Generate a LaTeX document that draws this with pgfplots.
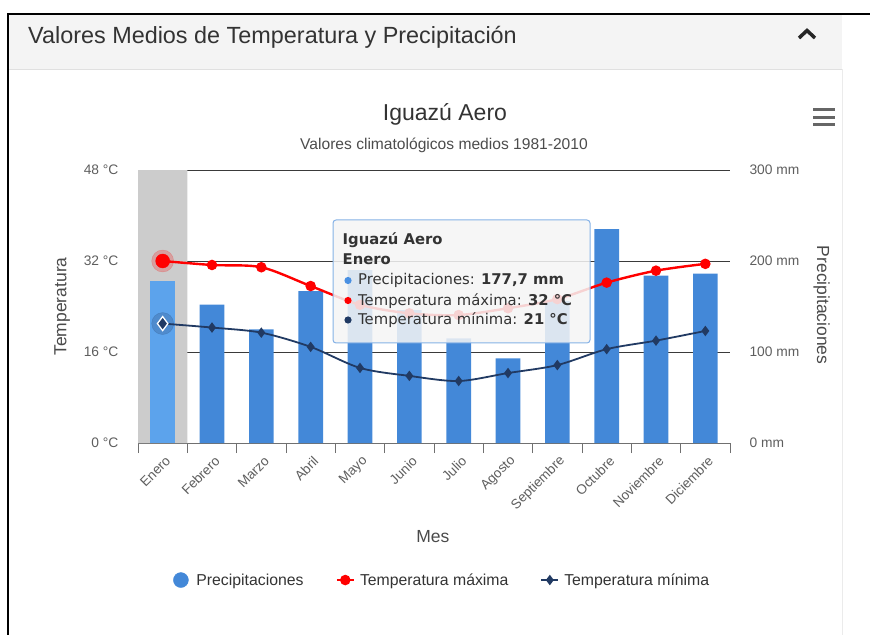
\documentclass[border=0pt]{standalone}
\usepackage{pgfplots}
\pgfplotsset{compat=1.18}
\usepackage{fontspec}
\setmainfont{Liberation Sans}
\newfontfamily\tipfont{DejaVu Sans}
\definecolor{headerbg}{HTML}{F4F4F4}
\definecolor{barblue}{HTML}{4388D8}
\definecolor{barhover}{HTML}{5CA3EC}
\definecolor{bandgray}{HTML}{CCCCCC}
\definecolor{tmax}{HTML}{FF0000}
\definecolor{tmin}{HTML}{213A63}
\definecolor{gridc}{HTML}{3A3A3A}
\definecolor{axisc}{HTML}{707070}
\definecolor{tickc}{HTML}{5E5E5E}
\definecolor{titlec}{HTML}{4A4A4A}
\definecolor{tipborder}{HTML}{86B2E6}
\definecolor{tipdot}{HTML}{4A90E2}
\pgfplotsset{
  base/.style={
    scale only axis, width=592pt, height=273pt,
    at={(138pt,192pt)}, anchor=south west,
    xmin=-0.5, xmax=11.5, ymin=0,
    /pgf/number format/assume math mode=true,
    y axis line style={draw=none},
    ytick style={draw=none},
    tick label style={font=\fontsize{13.8}{16}\selectfont, color=tickc},
  }
}
\begin{document}
\begin{tikzpicture}[x=1pt,y=1pt]
\path[use as bounding box] (0,0) rectangle (870,635);
% panel and header
\fill[headerbg] (9,566) rectangle (842,621);
\draw[line width=0.8pt, black!12] (9,566) -- (842,566);
\draw[line width=0.8pt, black!8] (842,566) -- (842,0);
\draw[line width=2pt, black] (870,621) -- (8,621) -- (8,0);
\node[anchor=base west, inner sep=0pt, text=black!80, font=\fontsize{23.4}{26}\selectfont] at (28,591) {Valores Medios de Temperatura y Precipitación};
\draw[line width=3.5pt, black!85] (799,597) -- (807,604.5) -- (815,597);
% titles
\node[anchor=base, inner sep=0pt, text=black!80, font=\fontsize{23}{26}\selectfont] at (445,514) {Iguazú Aero};
\node[anchor=base, inner sep=0pt, text=black!70, font=\fontsize{15.6}{18}\selectfont] at (444,485) {Valores climatológicos medios 1981-2010};
% menu icon
\foreach \yy in {525,517.5,510} \draw[line width=3pt, black!60] (813,\yy) -- (835,\yy);

% precipitation axis (bars)
\begin{axis}[base,
  ymax=300, ytick={0,100,200,300},
  yticklabel={\pgfmathprintnumber{\tick}~mm},
  yticklabel style={anchor=west, xshift=16pt},
  axis y line*=right, axis x line*=bottom,
  x axis line style={axisc, line width=0.8pt},
  ymajorgrids, grid style={gridc, line width=0.8pt},
  xtick={0,...,11},
  xticklabels={Enero,Febrero,Marzo,Abril,Mayo,Junio,Julio,Agosto,Septiembre,Octubre,Noviembre,Diciembre},
  xtick style={draw=none},
  xticklabel style={rotate=45, anchor=east, yshift=-15pt, xshift=-4pt, font=\fontsize{13.5}{15}\selectfont},
  extra x ticks={-0.5,0.5,...,11.5},
  extra x tick labels={},
  extra x tick style={xtick style={draw=axisc, line width=0.8pt}, major tick length=10pt, tick align=outside},
  xlabel={Mes},
  every axis x label/.style={at={(axis description cs:0.498,-0.366)}, anchor=base, font=\fontsize{17.5}{20}\selectfont, text=titlec},
  ylabel={Precipitaciones},
  every axis y label/.style={at={(axis description cs:1.155,0.505)}, rotate=-90, anchor=center, font=\fontsize{17.5}{20}\selectfont, text=titlec},
]
\addplot[fill=bandgray, draw=none] coordinates {(-0.5,0) (-0.5,300) (0.5,300) (0.5,0)} \closedcycle;
\addplot[ybar, bar width=0.5, bar shift=0pt, fill=barblue, draw=none]
  coordinates {(1,152) (2,125) (3,167) (4,190) (5,146) (6,115) (7,93) (8,156) (9,235) (10,184) (11,186)};
\addplot[ybar, bar width=0.5, bar shift=0pt, fill=barhover, draw=none]
  coordinates {(0,177.7)};
\end{axis}

% temperature axis (lines)
\begin{axis}[base,
  ymax=48, ytick={0,16,32,48},
  yticklabel={\pgfmathprintnumber{\tick}~°C},
  yticklabel style={anchor=east, xshift=-16pt},
  axis y line*=left, axis x line=none,
  ylabel={Temperatura},
  every axis y label/.style={at={(axis description cs:-0.128,0.5)}, rotate=90, anchor=center, font=\fontsize{17.5}{20}\selectfont, text=titlec},
  legend columns=3,
  legend style={at={(axis description cs:0.514,-0.502)}, anchor=center, draw=none, fill=none,
    font=\fontsize{15.8}{18}\selectfont, text=black!80,
    /tikz/every even column/.append style={column sep=30pt}},
]
\addlegendimage{only marks, mark=*, mark size=7.5pt, color=barblue}
\addlegendentry{\hspace{6pt}Precipitaciones}
\addplot[tmax, line width=2.4pt, smooth, mark=*, mark size=4pt, mark options={fill=tmax, draw=tmax}]
  coordinates {(0,32) (1,31.3) (2,30.9) (3,27.6) (4,24.3) (5,22.8) (6,22.5) (7,23.7) (8,25.3) (9,28.2) (10,30.3) (11,31.5)};
\addlegendentry{\hspace{3pt}Temperatura máxima}
\addplot[tmin, line width=1.8pt, smooth, mark=diamond*, mark size=3.8pt, mark options={fill=tmin, draw=tmin}]
  coordinates {(0,21) (1,20.3) (2,19.4) (3,16.9) (4,13.2) (5,11.8) (6,10.9) (7,12.3) (8,13.7) (9,16.5) (10,18.0) (11,19.7)};
\addlegendentry{\hspace{3pt}Temperatura mínima}
% hover state for January
\addplot[forget plot, color=tmax, opacity=0.22, only marks, mark=*, mark size=11pt, mark options={fill=tmax, draw=tmax}] coordinates {(0,32)};
\addplot[forget plot, color=tmax, only marks, mark=*, mark size=7pt, mark options={fill=tmax, draw=tmax}] coordinates {(0,32)};
\addplot[forget plot, color=tmin, opacity=0.22, only marks, mark=*, mark size=11pt, mark options={fill=tmin, draw=tmin}] coordinates {(0,21)};
\addplot[forget plot, color=white, only marks, mark=diamond*, mark size=7pt, mark options={fill=tmin, draw=white, line width=1.3pt}] coordinates {(0,21)};
\end{axis}

% tooltip
\fill[rounded corners=3pt, fill=white!96!black, fill opacity=0.86] (333,292) rectangle (590,415);
\draw[rounded corners=3pt, tipborder, line width=1pt] (333,292) rectangle (590,415);
\begin{scope}[every node/.style={anchor=base west, inner sep=0pt, text=black!80, font=\tipfont\fontsize{14.8}{17}\selectfont}]
\node at (342.5,390) {\bfseries Iguazú Aero};
\node at (342.5,370.5) {\bfseries Enero};
\fill[tipdot] (348,354.5) circle (3.6pt);
\node at (358,350) {Precipitaciones: \textbf{177,7 mm}};
\fill[tmax] (348,334.5) circle (3.6pt);
\node at (358,329.5) {Temperatura máxima: \textbf{32 °C}};
\fill[tmin] (348,315) circle (3.6pt);
\node at (358,310) {Temperatura mínima: \textbf{21 °C}};
\end{scope}
\end{tikzpicture}
\end{document}
